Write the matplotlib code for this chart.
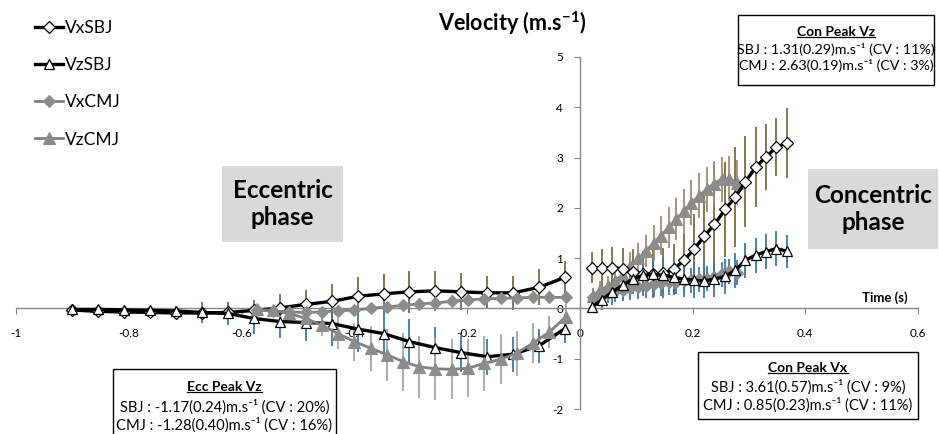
import numpy as np
import matplotlib
matplotlib.use('Agg')
import matplotlib.pyplot as plt
from matplotlib.patches import Rectangle
from matplotlib.lines import Line2D

plt.rcParams['font.family'] = ['Lato', 'DejaVu Sans']
plt.rcParams['mathtext.fontset'] = 'custom'
plt.rcParams['mathtext.rm'] = 'Lato'
plt.rcParams['mathtext.it'] = 'Lato:italic'
plt.rcParams['mathtext.bf'] = 'Lato:bold'

# ---------------- data ----------------
# eccentric phase (negative time)
t_ecc_sbj = [-0.900, -0.854, -0.808, -0.762, -0.716, -0.670, -0.624, -0.578, -0.532, -0.486,
             -0.440, -0.394, -0.348, -0.302, -0.256, -0.210, -0.164, -0.118, -0.072, -0.026]
t_ecc_cmj = [-0.573, -0.544, -0.515, -0.486, -0.458, -0.429, -0.400, -0.371, -0.342, -0.313,
             -0.285, -0.256, -0.227, -0.198, -0.169, -0.140, -0.112, -0.083, -0.054, -0.025]
vx_sbj_ecc = [-0.03, -0.06, -0.07, -0.08, -0.09, -0.09, -0.08, -0.04, 0.01, 0.08,
              0.14, 0.24, 0.29, 0.33, 0.35, 0.33, 0.31, 0.31, 0.42, 0.62]
vx_sbj_ecc_sd = [0.02, 0.03, 0.04, 0.05, 0.08, 0.10, 0.12, 0.20, 0.27, 0.29,
                 0.35, 0.38, 0.40, 0.42, 0.40, 0.37, 0.33, 0.34, 0.36, 0.33]
vz_sbj_ecc = [-0.02, -0.02, -0.03, -0.04, -0.05, -0.08, -0.10, -0.20, -0.26, -0.28,
              -0.30, -0.41, -0.50, -0.66, -0.78, -0.88, -0.96, -0.91, -0.74, -0.40]
vz_sbj_ecc_sd = [0.02, 0.03, 0.04, 0.06, 0.10, 0.20, 0.22, 0.30, 0.33, 0.36,
                 0.44, 0.45, 0.48, 0.44, 0.42, 0.38, 0.36, 0.35, 0.34, 0.29]
vx_cmj_ecc = [-0.03, -0.05, -0.07, -0.08, -0.07, -0.05, -0.03, 0.00, 0.03, 0.06,
              0.09, 0.11, 0.14, 0.17, 0.19, 0.20, 0.21, 0.22, 0.22, 0.22]
vx_cmj_ecc_sd = [0.03, 0.04, 0.05, 0.06, 0.07, 0.08, 0.09, 0.10, 0.10, 0.11,
                 0.12, 0.12, 0.12, 0.12, 0.12, 0.12, 0.12, 0.12, 0.12, 0.12]
vz_cmj_ecc = [-0.02, -0.04, -0.10, -0.20, -0.33, -0.50, -0.66, -0.79, -0.92, -1.06,
              -1.16, -1.20, -1.21, -1.19, -1.09, -1.01, -0.89, -0.69, -0.47, -0.17]
vz_cmj_ecc_sd = [0.03, 0.06, 0.10, 0.15, 0.22, 0.30, 0.38, 0.45, 0.52, 0.58,
                 0.62, 0.62, 0.60, 0.58, 0.55, 0.50, 0.45, 0.40, 0.32, 0.25]

# concentric phase (positive time)
t_con_sbj = [0.021, 0.039, 0.057, 0.076, 0.094, 0.112, 0.130, 0.148, 0.167, 0.185,
             0.203, 0.221, 0.239, 0.258, 0.276, 0.294, 0.312, 0.330, 0.349, 0.367]
t_con_cmj = [0.023, 0.036, 0.050, 0.063, 0.077, 0.090, 0.104, 0.117, 0.131, 0.144,
             0.158, 0.171, 0.185, 0.198, 0.212, 0.225, 0.238, 0.252, 0.265, 0.279]
vx_sbj_con = [0.81, 0.81, 0.81, 0.79, 0.73, 0.69, 0.68, 0.70, 0.78, 0.96,
              1.18, 1.44, 1.67, 1.97, 2.22, 2.52, 2.81, 3.01, 3.21, 3.29]
vx_sbj_con_sd = [0.31, 0.38, 0.42, 0.42, 0.45, 0.45, 0.48, 0.50, 0.50, 0.53,
                 0.70, 0.92, 1.18, 0.95, 1.00, 0.90, 0.80, 0.66, 0.57, 0.70]
vz_sbj_con = [0.02, 0.17, 0.32, 0.46, 0.58, 0.66, 0.68, 0.66, 0.62, 0.58,
              0.56, 0.55, 0.58, 0.64, 0.76, 0.96, 1.06, 1.13, 1.19, 1.14]
vz_sbj_con_sd = [0.10, 0.20, 0.25, 0.30, 0.30, 0.35, 0.35, 0.35, 0.35, 0.35,
                 0.35, 0.35, 0.35, 0.35, 0.35, 0.35, 0.35, 0.35, 0.35, 0.33]
vx_cmj_con = [0.22, 0.27, 0.31, 0.34, 0.37, 0.41, 0.43, 0.45, 0.48, 0.50,
              0.52, 0.53, 0.55, 0.56, 0.58, 0.59, 0.63, 0.68, 0.74, 0.71]
vx_cmj_con_sd = [0.15, 0.18, 0.20, 0.22, 0.22, 0.24, 0.24, 0.25, 0.25, 0.25,
                 0.25, 0.25, 0.25, 0.25, 0.25, 0.25, 0.25, 0.25, 0.25, 0.25]
vz_cmj_con = [0.25, 0.36, 0.45, 0.55, 0.67, 0.85, 1.00, 1.14, 1.30, 1.45,
              1.61, 1.78, 1.93, 2.10, 2.24, 2.37, 2.48, 2.57, 2.58, 2.50]
vz_cmj_con_sd = [0.15, 0.18, 0.20, 0.22, 0.25, 0.28, 0.30, 0.32, 0.35, 0.38,
                 0.40, 0.42, 0.45, 0.45, 0.45, 0.45, 0.45, 0.45, 0.45, 0.45]

series_labels = ['VxSBJ', 'VzSBJ', 'VxCMJ', 'VzCMJ']
x_ticks = [-1, -0.8, -0.6, -0.4, -0.2, 0, 0.2, 0.4, 0.6]
x_ticklabels = ['-1', '-0.8', '-0.6', '-0.4', '-0.2', '0', '0.2', '0.4', '0.6']
y_ticks = [-2, -1, 0, 1, 2, 3, 4, 5]

# ---------------- figure ----------------
W, H = 939, 434
fig = plt.figure(figsize=(W / 100, H / 100), dpi=100)
ax = fig.add_axes([16 / W, 1 - 409 / H, (918 - 16) / W, (409 - 57) / H])
ax.set_xlim(-1, 0.6)
ax.set_ylim(-2, 5)

BROWN = '#7f6a40'
BLUE = '#3c78aa'
GRAYBAR = '#a6a6a6'
TAN = '#a08c6e'
GRAY = '#8c8c8c'

def ebar(t, v, sd, c):
    ax.errorbar(t, v, yerr=sd, fmt='none', ecolor=c, elinewidth=1.3, capsize=0, zorder=1)

ebar(t_ecc_sbj, vx_sbj_ecc, vx_sbj_ecc_sd, BROWN)
ebar(t_ecc_sbj, vz_sbj_ecc, vz_sbj_ecc_sd, BLUE)
ebar(t_ecc_cmj, vx_cmj_ecc, vx_cmj_ecc_sd, GRAYBAR)
ebar(t_ecc_cmj, vz_cmj_ecc, vz_cmj_ecc_sd, GRAYBAR)
ebar(t_con_sbj, vx_sbj_con, vx_sbj_con_sd, BROWN)
ebar(t_con_sbj, vz_sbj_con, vz_sbj_con_sd, BLUE)
ebar(t_con_cmj, vx_cmj_con, vx_cmj_con_sd, BLUE)
ebar(t_con_cmj, vz_cmj_con, vz_cmj_con_sd, TAN)

sty = {
    'VxSBJ': dict(color='black', lw=2.4, marker='D', ms=6, mfc='white', mec='black', mew=0.9),
    'VzSBJ': dict(color='black', lw=2.4, marker='^', ms=7, mfc='white', mec='black', mew=0.9),
    'VxCMJ': dict(color='#808080', lw=2.0, marker='D', ms=6, mfc=GRAY, mec=GRAY, mew=0.8),
    'VzCMJ': dict(color='#808080', lw=2.0, marker='^', ms=8.5, mfc=GRAY, mec=GRAY, mew=0.8),
}

ax.plot(t_ecc_sbj, vx_sbj_ecc, zorder=3, **sty['VxSBJ'])
ax.plot(t_ecc_sbj, vz_sbj_ecc, zorder=3, **sty['VzSBJ'])
ax.plot(t_ecc_cmj, vx_cmj_ecc, zorder=3, **sty['VxCMJ'])
ax.plot(t_ecc_cmj, vz_cmj_ecc, zorder=3, **sty['VzCMJ'])
ax.plot(t_con_cmj, vx_cmj_con, zorder=3, **sty['VxCMJ'])
ax.plot(t_con_cmj, vz_cmj_con, zorder=3, **sty['VzCMJ'])
ax.plot(t_con_sbj, vx_sbj_con, zorder=4, **sty['VxSBJ'])
ax.plot(t_con_sbj, vz_sbj_con, zorder=4, **sty['VzSBJ'])

# axes styling
for s in ['top', 'right']:
    ax.spines[s].set_visible(False)
ax.spines['left'].set_position(('data', 0))
ax.spines['bottom'].set_position(('data', 0))
for s in ['left', 'bottom']:
    ax.spines[s].set_color('#868686')
    ax.spines[s].set_linewidth(1.0)
ax.set_axisbelow(True)
ax.set_xticks(x_ticks)
ax.set_xticklabels(x_ticklabels)
ax.set_yticks(y_ticks)
ax.set_yticklabels([str(v) for v in y_ticks])
ax.tick_params(axis='x', direction='out', length=4, color='#868686', pad=10, labelsize=8.5)
ax.tick_params(axis='y', direction='out', length=4, color='#868686', pad=8, labelsize=8.5)
ax.patch.set_alpha(0)

# legend
handles = [Line2D([], [], **sty[k]) for k in series_labels]
fig.legend(handles, series_labels, loc='upper left', bbox_to_anchor=(35 / W, 1 - 20 / H),
           frameon=False, fontsize=12.5, handlelength=1.6, labelspacing=1.22,
           handletextpad=0.12, borderaxespad=0, borderpad=0)

def fx(p):
    return p / W

def fy(p):
    return 1 - p / H

# title & axis label
fig.text(fx(512), fy(23), r'Velocity (m.$\mathbf{s}^{\mathbf{-1}}$)', ha='center', va='center',
         fontsize=15.5, fontweight='bold')
fig.text(fx(885), fy(298), 'Time (s)', ha='center', va='center', fontsize=9.5, fontweight='bold')

# phase boxes
def phase_box(x0, y0, x1, y1, txt):
    fig.patches.append(Rectangle((fx(x0), fy(y1)), (x1 - x0) / W, (y1 - y0) / H,
                                 transform=fig.transFigure, fc='#d9d9d9', ec='none', zorder=5))
    fig.text(fx((x0 + x1) / 2), fy((y0 + y1) / 2), txt, ha='center', va='center',
             fontsize=17.5, fontweight='bold', linespacing=1.25, zorder=6)

phase_box(222, 166, 343, 242, 'Eccentric\nphase')
phase_box(808, 169, 938, 249, 'Concentric\nphase')

# annotation boxes
titles = []
def info_box(x0, y0, x1, y1, title, l1, l2, ys, fs):
    fig.patches.append(Rectangle((fx(x0), fy(y1)), (x1 - x0) / W, (y1 - y0) / H,
                                 transform=fig.transFigure, fc='white', ec='black', lw=1.0, zorder=5))
    cx = (x0 + x1) / 2
    tt = fig.text(fx(cx), fy(ys[0]), title, ha='center', va='center', fontsize=10,
                  fontweight='bold', zorder=6)
    titles.append(tt)
    fig.text(fx(cx), fy(ys[1]), l1, ha='center', va='center', fontsize=fs, zorder=6)
    fig.text(fx(cx), fy(ys[2]), l2, ha='center', va='center', fontsize=fs, zorder=6)

U = 'm.s\u207b\u00b9'
info_box(738, 15, 934, 85, 'Con Peak Vz',
         'SBJ : 1.31(0.29)' + U + ' (CV : 11%)',
         'CMJ : 2.63(0.19)' + U + ' (CV : 3%)', (32, 50, 66), 10.3)
info_box(113, 369, 336, 436, 'Ecc Peak Vz',
         'SBJ : -1.17(0.24)' + U + ' (CV : 20%)',
         'CMJ : -1.28(0.40)' + U + ' (CV : 16%)', (387, 407, 425), 10.6)
info_box(698, 352, 918, 419, 'Con Peak Vx',
         'SBJ : 3.61(0.57)' + U + ' (CV : 9%)',
         'CMJ : 0.85(0.23)' + U + ' (CV : 11%)', (368, 387, 405), 10.5)

# underline box titles
fig.canvas.draw()
r = fig.canvas.get_renderer()
for tt in titles:
    bb = tt.get_window_extent(renderer=r).transformed(fig.transFigure.inverted())
    fig.lines.append(Line2D([bb.x0, bb.x1], [bb.y0 + 0.003, bb.y0 + 0.003], transform=fig.transFigure,
                            color='black', lw=0.9, zorder=7))

fig.savefig('out.png', dpi=100)
